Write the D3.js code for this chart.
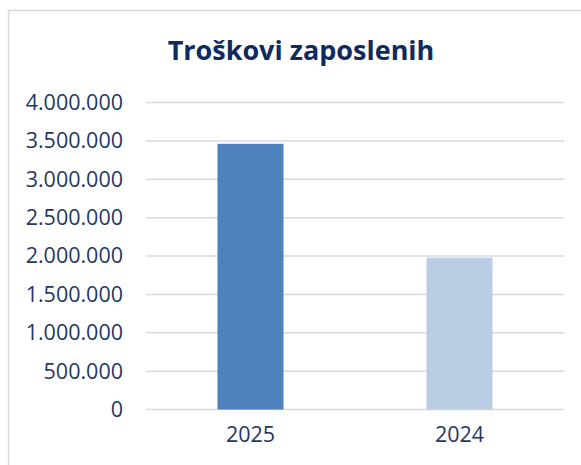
<!DOCTYPE html>
<html>
<head>
<meta charset="utf-8">
<script src="https://cdn.jsdelivr.net/npm/d3@7"></script>
<style>
  html, body { margin: 0; padding: 0; background: #fff; }
  svg { display: block; }
  .axis text { font-family: "Open Sans", sans-serif; font-size: 21.5px; fill: #1F3864; }
  .title { font-family: "Open Sans", sans-serif; font-size: 27px; font-weight: 700; fill: #0E2A5E; }
</style>
</head>
<body>
<div id="chart"></div>
<script>
////////////////////////////// Data //////////////////////////////
var categories = ["2025", "2024"];
var values = [3462000, 1978000];
var barColors = ["#4F81BD", "#B9CDE5"];
var yTicks = [0, 500000, 1000000, 1500000, 2000000, 2500000, 3000000, 3500000, 4000000];

////////////////////////////// Setup //////////////////////////////
var width = 581,
    height = 465;

var margin = { top: 102.5, right: 17, bottom: 55.5, left: 146 };
var innerW = width - margin.left - margin.right,
    innerH = height - margin.top - margin.bottom;

var svg = d3.select("#chart")
    .append("svg")
    .attr("width", width)
    .attr("height", height);

//Chart frame (only top and left edges fall inside the window)
svg.append("rect")
    .attr("x", 8.5).attr("y", 10.5)
    .attr("width", 600).attr("height", 500)
    .style("fill", "none")
    .style("stroke", "#D9D9D9")
    .style("stroke-width", 1.5);

svg.append("text")
    .attr("class", "title")
    .attr("x", 301)
    .attr("y", 60)
    .attr("text-anchor", "middle")
    .text("Troškovi zaposlenih");

var g = svg.append("g")
    .attr("transform", "translate(" + margin.left + "," + margin.top + ")");

//Scales
var x = d3.scaleBand()
    .domain(categories)
    .range([0, innerW])
    .paddingInner(0.684)
    .paddingOuter(0.342);

var y = d3.scaleLinear()
    .domain([0, 4000000])
    .range([innerH, 0]);

var fmt = function(d) { return d3.format(",")(d).replace(/,/g, "."); };

//Gridlines
g.append("g")
    .selectAll("line")
    .data(yTicks)
    .enter().append("line")
    .attr("x1", 0).attr("x2", innerW)
    .attr("y1", function(d) { return y(d); })
    .attr("y2", function(d) { return y(d); })
    .style("stroke", "#D9D9D9")
    .style("stroke-width", 1.5);

//Y axis labels
var yAxis = d3.axisLeft(y)
    .tickValues(yTicks)
    .tickFormat(fmt)
    .tickSize(0)
    .tickPadding(23);

g.append("g")
    .attr("class", "axis")
    .call(yAxis)
    .call(function(s) { s.select(".domain").remove(); });

//Bars
g.selectAll(".bar")
    .data(values)
    .enter().append("rect")
    .attr("class", "bar")
    .attr("x", function(d, i) { return x(categories[i]); })
    .attr("width", x.bandwidth())
    .attr("y", function(d) { return y(d); })
    .attr("height", function(d) { return innerH - y(d); })
    .style("fill", function(d, i) { return barColors[i]; });

//X axis labels
var xAxis = d3.axisBottom(x)
    .tickSize(0)
    .tickPadding(17);

g.append("g")
    .attr("class", "axis")
    .attr("transform", "translate(0," + innerH + ")")
    .call(xAxis)
    .call(function(s) { s.select(".domain").remove(); });
</script>
</body>
</html>
